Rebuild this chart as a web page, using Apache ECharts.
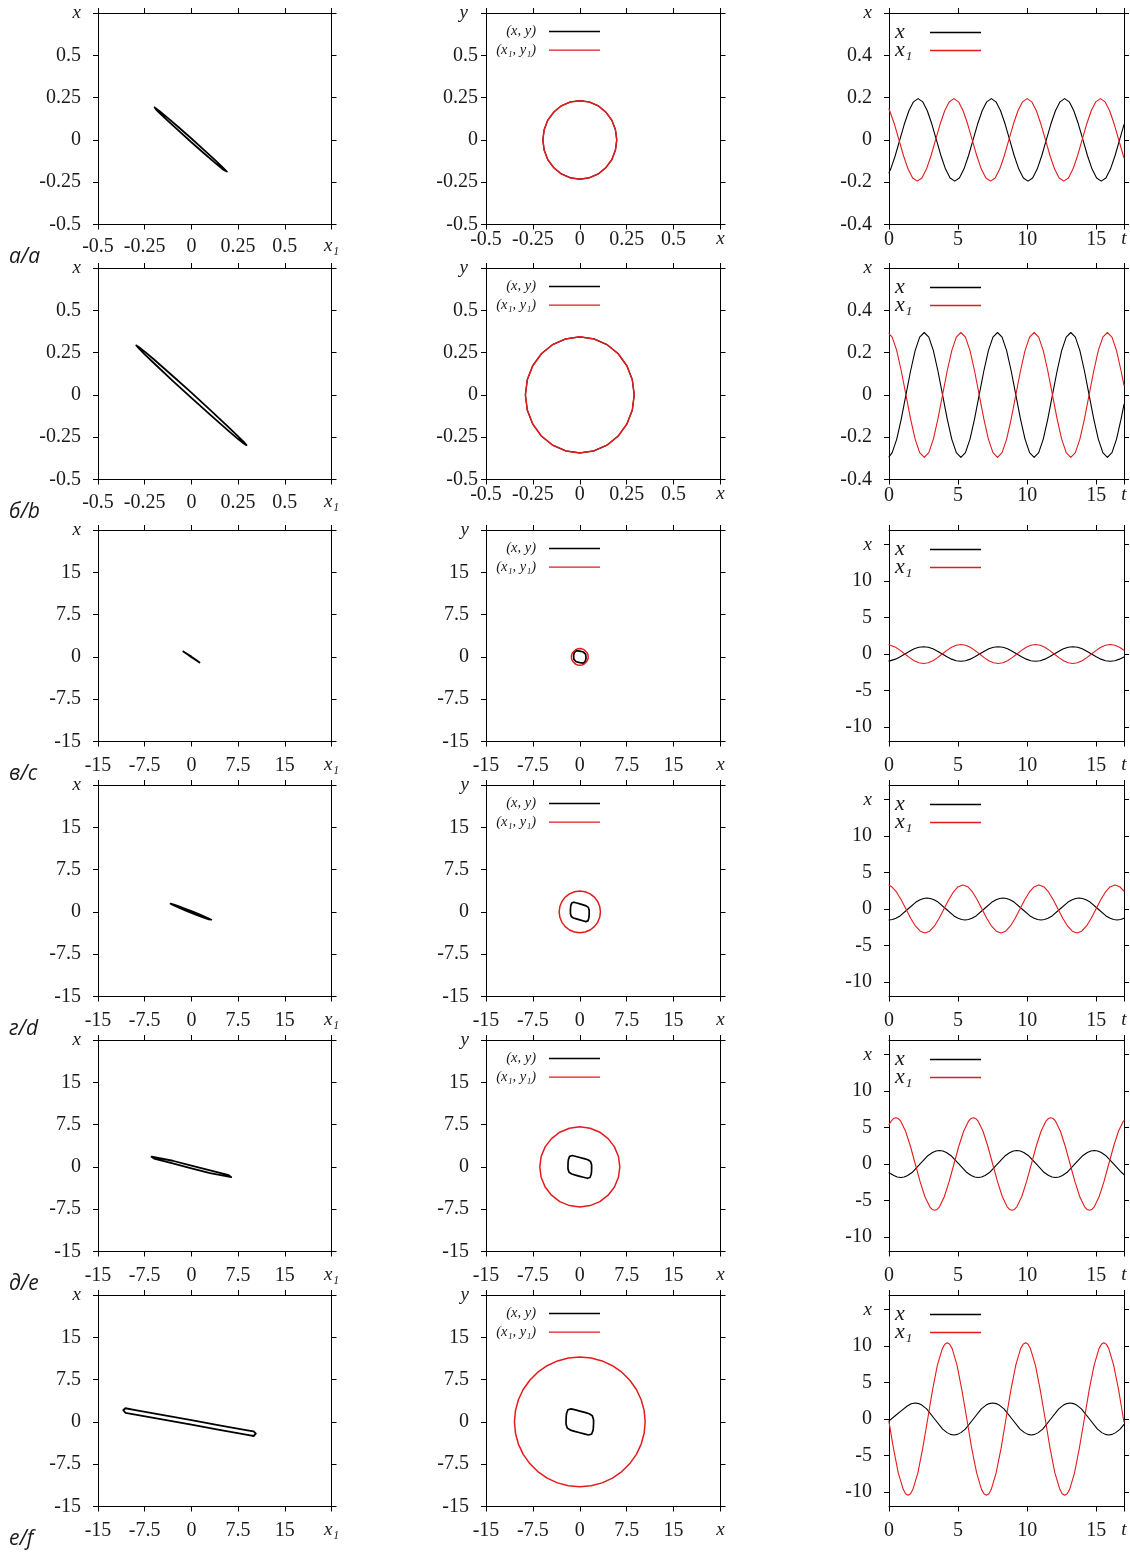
<!DOCTYPE html>
<html><head><meta charset="utf-8">
<script src="https://cdn.jsdelivr.net/npm/echarts@6/dist/echarts.min.js"></script>
<style>html,body{margin:0;padding:0;background:#fff}#c{width:1130px;height:1553px}</style>
</head><body><div id="c"></div>
<script>
// ---------- tick values / labels ----------
const phaseTicksSmall = [-0.5, -0.25, 0, 0.25, 0.5, 0.75];
const phaseTicksLarge = [-15, -7.5, 0, 7.5, 15, 22.5];
const timeTicksT = [0, 5, 10, 15, 17];
const timeTicksSmall = [-0.4, -0.2, 0, 0.2, 0.4, 0.6];
const timeTicksLarge = [-10, -5, 0, 5, 10, 15];
const timeRangeLarge = [-12, 17];
const rowLabels = ['а/a', 'б/b', 'в/c', 'г/d', 'д/e', 'е/f'];

// ---------- left column: (x1, x) loops ----------
const loopA = [[-0.197,0.192],[-0.19,0.187],[-0.17,0.17],[-0.13,0.133],[-0.07,0.076],[0,0.008],[0.07,-0.062],[0.13,-0.123],[0.17,-0.165],[0.19,-0.187],[0.2,-0.198],[0.19,-0.193],[0.17,-0.176],[0.13,-0.139],[0.07,-0.082],[0,-0.014],[-0.07,0.056],[-0.13,0.117],[-0.17,0.159],[-0.19,0.181],[-0.197,0.192]];
const loopB = [[-0.295,0.292],[-0.28,0.282],[-0.25,0.256],[-0.2,0.209],[-0.1,0.112],[0,0.013],[0.1,-0.088],[0.2,-0.192],[0.25,-0.245],[0.28,-0.278],[0.295,-0.297],[0.28,-0.287],[0.25,-0.261],[0.2,-0.214],[0.1,-0.117],[0,-0.018],[-0.1,0.083],[-0.2,0.187],[-0.25,0.24],[-0.28,0.273],[-0.295,0.292]];
const loopC = [[-1.3,0.97],[-0.65,0.52],[0,0.05],[0.65,-0.45],[1.3,-1.0],[0.65,-0.52],[0,-0.05],[-0.65,0.45],[-1.3,0.97]];
const loopD = [[-3.35,1.45],[-3.2,1.43],[-2.8,1.293],[-2,0.98],[-1,0.563],[0,0.13],[1,-0.317],[2,-0.78],[2.8,-1.171],[3.2,-1.386],[3.3,-1.47],[3.2,-1.47],[2.8,-1.333],[2,-1.02],[1,-0.603],[0,-0.17],[-1,0.277],[-2,0.74],[-2.8,1.131],[-3.2,1.346],[-3.35,1.45]];
const loopE = [[-6.4,1.81],[-6.2,2.0],[-3,1.09],[0,0.24],[3,-0.61],[6.0,-1.46],[6.4,-1.81],[6.2,-2.0],[3,-1.09],[0,-0.24],[-3,0.61],[-6.0,1.46],[-6.4,1.81]];
const loopF = [[-10.95,2.08],[-10.85,2.3],[-10.6,2.42],[-9,2.1],[-4.5,1.2],[0,0.3],[4.5,-0.6],[9,-1.5],[10.0,-1.7],[10.25,-1.82],[10.35,-2.1],[10.25,-2.36],[10.0,-2.5],[9,-2.3],[4.5,-1.4],[0,-0.5],[-4.5,0.4],[-9,1.3],[-10.6,1.62],[-10.85,1.86],[-10.95,2.08]];

// ---------- middle column: (x, y) and (x1, y1) orbits ----------
const orbitA_xy = [[0.197,0],[0.19,0.06],[0.171,0.116],[0.139,0.164],[0.099,0.201],[0.051,0.224],[0,0.232],[-0.051,0.224],[-0.099,0.201],[-0.139,0.164],[-0.171,0.116],[-0.19,0.06],[-0.197,0],[-0.19,-0.06],[-0.171,-0.116],[-0.139,-0.164],[-0.099,-0.201],[-0.051,-0.224],[0,-0.232],[0.051,-0.224],[0.099,-0.201],[0.139,-0.164],[0.171,-0.116],[0.19,-0.06],[0.197,0]];
const orbitA_x1y1 = [[0.197,0],[0.19,0.06],[0.171,0.116],[0.139,0.164],[0.099,0.201],[0.051,0.224],[0,0.232],[-0.051,0.224],[-0.099,0.201],[-0.139,0.164],[-0.171,0.116],[-0.19,0.06],[-0.197,0],[-0.19,-0.06],[-0.171,-0.116],[-0.139,-0.164],[-0.099,-0.201],[-0.051,-0.224],[0,-0.232],[0.051,-0.224],[0.099,-0.201],[0.139,-0.164],[0.171,-0.116],[0.19,-0.06],[0.197,0]];
const orbitB_xy = [[0.29,0],[0.28,0.089],[0.251,0.172],[0.205,0.243],[0.145,0.297],[0.075,0.331],[0,0.343],[-0.075,0.331],[-0.145,0.297],[-0.205,0.243],[-0.251,0.172],[-0.28,0.089],[-0.29,0],[-0.28,-0.089],[-0.251,-0.172],[-0.205,-0.243],[-0.145,-0.297],[-0.075,-0.331],[0,-0.343],[0.075,-0.331],[0.145,-0.297],[0.205,-0.243],[0.251,-0.172],[0.28,-0.089],[0.29,0]];
const orbitB_x1y1 = [[0.29,0],[0.28,0.089],[0.251,0.172],[0.205,0.243],[0.145,0.297],[0.075,0.331],[0,0.343],[-0.075,0.331],[-0.145,0.297],[-0.205,0.243],[-0.251,0.172],[-0.28,0.089],[-0.29,0],[-0.28,-0.089],[-0.251,-0.172],[-0.205,-0.243],[-0.145,-0.297],[-0.075,-0.331],[0,-0.343],[0.075,-0.331],[0.145,-0.297],[0.205,-0.243],[0.251,-0.172],[0.28,-0.089],[0.29,0]];
const orbitC_xy = [[-0.55,1.1],[-0.25,1.07],[0,1.02],[0.3,0.95],[0.58,0.86],[0.8,0.7],[0.94,0.45],[1.0,0.15],[1.0,-0.2],[0.97,-0.5],[0.88,-0.78],[0.72,-0.98],[0.55,-1.1],[0.25,-1.07],[0,-1.02],[-0.3,-0.95],[-0.58,-0.86],[-0.8,-0.7],[-0.94,-0.45],[-1.0,-0.15],[-1.0,0.2],[-0.97,0.5],[-0.88,0.78],[-0.72,0.98],[-0.55,1.1]];
const orbitC_x1y1 = [[1.35,0],[1.304,0.383],[1.169,0.74],[0.954,1.046],[0.675,1.282],[0.35,1.43],[0,1.48],[-0.35,1.43],[-0.675,1.282],[-0.954,1.046],[-1.169,0.74],[-1.304,0.383],[-1.35,0],[-1.304,-0.383],[-1.169,-0.74],[-0.954,-1.046],[-0.675,-1.282],[-0.35,-1.43],[0,-1.48],[0.35,-1.43],[0.675,-1.282],[0.954,-1.046],[1.169,-0.74],[1.304,-0.383],[1.35,0]];
const orbitD_xy = [[-0.95,1.72],[-0.48,1.57],[0,1.42],[0.54,1.24],[1.02,1.07],[1.22,0.96],[1.36,0.81],[1.45,0.59],[1.5,0.3],[1.5,-0.22],[1.48,-0.74],[1.44,-1.11],[1.39,-1.37],[1.29,-1.59],[1.16,-1.7],[0.95,-1.72],[0.48,-1.57],[0,-1.42],[-0.54,-1.24],[-1.02,-1.07],[-1.22,-0.96],[-1.36,-0.81],[-1.45,-0.59],[-1.5,-0.3],[-1.5,0.22],[-1.48,0.74],[-1.44,1.11],[-1.39,1.37],[-1.29,1.59],[-1.16,1.7],[-0.95,1.72]];
const orbitD_x1y1 = [[3.3,0],[3.188,0.958],[2.858,1.85],[2.333,2.616],[1.65,3.204],[0.855,3.574],[0,3.7],[-0.855,3.574],[-1.65,3.204],[-2.333,2.616],[-2.858,1.85],[-3.188,0.958],[-3.3,0],[-3.188,-0.958],[-2.858,-1.85],[-2.333,-2.616],[-1.65,-3.204],[-0.855,-3.574],[0,-3.7],[0.855,-3.574],[1.65,-3.204],[2.333,-2.616],[2.858,-1.85],[3.188,-0.958],[3.3,0]];
const orbitE_xy = [[-1.2,2.02],[-0.6,1.84],[0,1.67],[0.69,1.46],[1.29,1.26],[1.55,1.13],[1.72,0.96],[1.83,0.7],[1.89,0.35],[1.89,-0.26],[1.87,-0.87],[1.82,-1.3],[1.76,-1.61],[1.63,-1.87],[1.46,-2.0],[1.2,-2.02],[0.6,-1.84],[0,-1.67],[-0.69,-1.46],[-1.29,-1.26],[-1.55,-1.13],[-1.72,-0.96],[-1.83,-0.7],[-1.89,-0.35],[-1.89,0.26],[-1.87,0.87],[-1.82,1.3],[-1.76,1.61],[-1.63,1.87],[-1.46,2.0],[-1.2,2.02]];
const orbitE_x1y1 = [[6.4,0],[6.182,1.839],[5.542,3.55],[4.525,5.02],[3.2,6.149],[1.658,6.859],[0,7.1],[-1.658,6.859],[-3.2,6.149],[-4.525,5.02],[-5.542,3.55],[-6.182,1.839],[-6.4,0],[-6.182,-1.839],[-5.542,-3.55],[-4.525,-5.02],[-3.2,-6.149],[-1.658,-6.859],[0,-7.1],[1.658,-6.859],[3.2,-6.149],[4.525,-5.02],[5.542,-3.55],[6.182,-1.839],[6.4,0]];
const orbitF_xy = [[-1.4,2.32],[-0.7,2.12],[0,1.92],[0.8,1.68],[1.5,1.45],[1.8,1.3],[2.0,1.1],[2.13,0.8],[2.2,0.4],[2.2,-0.3],[2.17,-1.0],[2.12,-1.5],[2.05,-1.85],[1.9,-2.15],[1.7,-2.3],[1.4,-2.32],[0.7,-2.12],[0,-1.92],[-0.8,-1.68],[-1.5,-1.45],[-1.8,-1.3],[-2.0,-1.1],[-2.13,-0.8],[-2.2,-0.4],[-2.2,0.3],[-2.17,1.0],[-2.12,1.5],[-2.05,1.85],[-1.9,2.15],[-1.7,2.3],[-1.4,2.32]];
const orbitF_x1y1 = [[10.45,0],[10.29,2.0],[9.82,3.93],[9.05,5.75],[8.0,7.39],[6.72,8.81],[5.225,9.96],[3.57,10.81],[1.82,11.33],[0,11.5],[-1.82,11.33],[-3.57,10.81],[-5.225,9.96],[-6.72,8.81],[-8.0,7.39],[-9.05,5.75],[-9.82,3.93],[-10.29,2.0],[-10.45,0],[-10.29,-2.0],[-9.82,-3.93],[-9.05,-5.75],[-8.0,-7.39],[-6.72,-8.81],[-5.225,-9.96],[-3.57,-10.81],[-1.82,-11.33],[0,-11.5],[1.82,-11.33],[3.57,-10.81],[5.225,-9.96],[6.72,-8.81],[8.0,-7.39],[9.05,-5.75],[9.82,-3.93],[10.29,-2.0],[10.45,0]];

// ---------- right column: x(t), x1(t) ----------
const timeA_x = [[0,-0.155],[0.12,-0.138],[0.45,-0.075],[0.78,0],[1.11,0.075],[1.44,0.138],[1.77,0.18],[2.105,0.195],[2.44,0.18],[2.77,0.138],[3.1,0.075],[3.43,0],[3.76,-0.075],[4.09,-0.138],[4.42,-0.18],[4.755,-0.195],[5.09,-0.18],[5.42,-0.138],[5.75,-0.075],[6.08,0],[6.41,0.075],[6.74,0.138],[7.07,0.18],[7.405,0.195],[7.74,0.18],[8.07,0.138],[8.4,0.075],[8.73,0],[9.06,-0.075],[9.39,-0.138],[9.72,-0.18],[10.055,-0.195],[10.39,-0.18],[10.72,-0.138],[11.05,-0.075],[11.38,0],[11.71,0.075],[12.04,0.138],[12.37,0.18],[12.705,0.195],[13.04,0.18],[13.37,0.138],[13.7,0.075],[14.03,0],[14.36,-0.075],[14.69,-0.138],[15.02,-0.18],[15.355,-0.195],[15.69,-0.18],[16.02,-0.138],[16.35,-0.075],[16.68,0],[17,0.072]];
const timeA_x1 = [[0,0.146],[0.39,0.075],[0.72,0],[1.05,-0.075],[1.38,-0.138],[1.71,-0.18],[2.045,-0.195],[2.38,-0.18],[2.71,-0.138],[3.04,-0.075],[3.37,0],[3.7,0.075],[4.03,0.138],[4.36,0.18],[4.695,0.195],[5.03,0.18],[5.36,0.138],[5.69,0.075],[6.02,0],[6.35,-0.075],[6.68,-0.138],[7.01,-0.18],[7.345,-0.195],[7.68,-0.18],[8.01,-0.138],[8.34,-0.075],[8.67,0],[9.0,0.075],[9.33,0.138],[9.66,0.18],[9.995,0.195],[10.33,0.18],[10.66,0.138],[10.99,0.075],[11.32,0],[11.65,-0.075],[11.98,-0.138],[12.31,-0.18],[12.645,-0.195],[12.98,-0.18],[13.31,-0.138],[13.64,-0.075],[13.97,0],[14.3,0.075],[14.63,0.138],[14.96,0.18],[15.295,0.195],[15.63,0.18],[15.96,0.138],[16.29,0.075],[16.62,0],[16.95,-0.075],[17,-0.085]];
const timeB_x = [[0,-0.293],[0.23,-0.273],[0.56,-0.209],[0.89,-0.113],[1.225,0],[1.56,0.113],[1.89,0.209],[2.22,0.273],[2.55,0.295],[2.88,0.273],[3.21,0.209],[3.54,0.113],[3.875,0],[4.21,-0.113],[4.54,-0.209],[4.87,-0.273],[5.2,-0.295],[5.53,-0.273],[5.86,-0.209],[6.19,-0.113],[6.525,0],[6.86,0.113],[7.19,0.209],[7.52,0.273],[7.85,0.295],[8.18,0.273],[8.51,0.209],[8.84,0.113],[9.175,0],[9.51,-0.113],[9.84,-0.209],[10.17,-0.273],[10.5,-0.295],[10.83,-0.273],[11.16,-0.209],[11.49,-0.113],[11.825,0],[12.16,0.113],[12.49,0.209],[12.82,0.273],[13.15,0.295],[13.48,0.273],[13.81,0.209],[14.14,0.113],[14.475,0],[14.81,-0.113],[15.14,-0.209],[15.47,-0.273],[15.8,-0.295],[16.13,-0.273],[16.46,-0.209],[16.79,-0.113],[17,-0.045]];
const timeB_x1 = [[0,0.29],[0.23,0.273],[0.56,0.209],[0.89,0.113],[1.225,0],[1.56,-0.113],[1.89,-0.209],[2.22,-0.273],[2.55,-0.295],[2.88,-0.273],[3.21,-0.209],[3.54,-0.113],[3.875,0],[4.21,0.113],[4.54,0.209],[4.87,0.273],[5.2,0.295],[5.53,0.273],[5.86,0.209],[6.19,0.113],[6.525,0],[6.86,-0.113],[7.19,-0.209],[7.52,-0.273],[7.85,-0.295],[8.18,-0.273],[8.51,-0.209],[8.84,-0.113],[9.175,0],[9.51,0.113],[9.84,0.209],[10.17,0.273],[10.5,0.295],[10.83,0.273],[11.16,0.209],[11.49,0.113],[11.825,0],[12.16,-0.113],[12.49,-0.209],[12.82,-0.273],[13.15,-0.295],[13.48,-0.273],[13.81,-0.209],[14.14,-0.113],[14.475,0],[14.81,0.113],[15.14,0.209],[15.47,0.273],[15.8,0.295],[16.13,0.273],[16.46,0.209],[16.79,0.113],[17,0.045]];
const timeC_x = [[0,-0.98],[0.14,-0.924],[0.475,-0.707],[0.81,-0.383],[1.15,0],[1.49,0.383],[1.825,0.707],[2.16,0.924],[2.5,1.0],[2.84,0.924],[3.175,0.707],[3.51,0.383],[3.85,0],[4.19,-0.383],[4.525,-0.707],[4.86,-0.924],[5.2,-1.0],[5.54,-0.924],[5.875,-0.707],[6.21,-0.383],[6.55,0],[6.89,0.383],[7.225,0.707],[7.56,0.924],[7.9,1.0],[8.24,0.924],[8.575,0.707],[8.91,0.383],[9.25,0],[9.59,-0.383],[9.925,-0.707],[10.26,-0.924],[10.6,-1.0],[10.94,-0.924],[11.275,-0.707],[11.61,-0.383],[11.95,0],[12.29,0.383],[12.625,0.707],[12.96,0.924],[13.3,1.0],[13.64,0.924],[13.975,0.707],[14.31,0.383],[14.65,0],[14.99,-0.383],[15.325,-0.707],[15.66,-0.924],[16.0,-1.0],[16.34,-0.924],[16.675,-0.707],[17,-0.4]];
const timeC_x1 = [[0,1.27],[0.14,1.201],[0.475,0.919],[0.81,0.498],[1.15,0],[1.49,-0.498],[1.825,-0.919],[2.16,-1.201],[2.5,-1.3],[2.84,-1.201],[3.175,-0.919],[3.51,-0.498],[3.85,0],[4.19,0.498],[4.525,0.919],[4.86,1.201],[5.2,1.3],[5.54,1.201],[5.875,0.919],[6.21,0.498],[6.55,0],[6.89,-0.498],[7.225,-0.919],[7.56,-1.201],[7.9,-1.3],[8.24,-1.201],[8.575,-0.919],[8.91,-0.498],[9.25,0],[9.59,0.498],[9.925,0.919],[10.26,1.201],[10.6,1.3],[10.94,1.201],[11.275,0.919],[11.61,0.498],[11.95,0],[12.29,-0.498],[12.625,-0.919],[12.96,-1.201],[13.3,-1.3],[13.64,-1.201],[13.975,-0.919],[14.31,-0.498],[14.65,0],[14.99,0.498],[15.325,0.919],[15.66,1.201],[16.0,1.3],[16.34,1.201],[16.675,0.919],[17,0.52]];
const timeD_x = [[0,-1.5],[0.25,-1.44],[0.5,-1.27],[0.8,-0.95],[1.375,0],[1.95,0.95],[2.25,1.27],[2.5,1.44],[2.75,1.5],[3.0,1.44],[3.25,1.27],[3.55,0.95],[4.125,0],[4.7,-0.95],[5.0,-1.27],[5.25,-1.44],[5.5,-1.5],[5.75,-1.44],[6.0,-1.27],[6.3,-0.95],[6.875,0],[7.45,0.95],[7.75,1.27],[8.0,1.44],[8.25,1.5],[8.5,1.44],[8.75,1.27],[9.05,0.95],[9.625,0],[10.2,-0.95],[10.5,-1.27],[10.75,-1.44],[11.0,-1.5],[11.25,-1.44],[11.5,-1.27],[11.8,-0.95],[12.375,0],[12.95,0.95],[13.25,1.27],[13.5,1.44],[13.75,1.5],[14.0,1.44],[14.25,1.27],[14.55,0.95],[15.125,0],[15.7,-0.95],[16.0,-1.27],[16.25,-1.44],[16.5,-1.5],[16.75,-1.44],[17,-1.27]];
const timeD_x1 = [[0,3.27],[0.19,3.049],[0.54,2.333],[0.88,1.263],[1.225,0],[1.57,-1.263],[1.91,-2.333],[2.26,-3.049],[2.6,-3.3],[2.94,-3.049],[3.29,-2.333],[3.63,-1.263],[3.975,0],[4.32,1.263],[4.66,2.333],[5.01,3.049],[5.35,3.3],[5.69,3.049],[6.04,2.333],[6.38,1.263],[6.725,0],[7.07,-1.263],[7.41,-2.333],[7.76,-3.049],[8.1,-3.3],[8.44,-3.049],[8.79,-2.333],[9.13,-1.263],[9.475,0],[9.82,1.263],[10.16,2.333],[10.51,3.049],[10.85,3.3],[11.19,3.049],[11.54,2.333],[11.88,1.263],[12.225,0],[12.57,-1.263],[12.91,-2.333],[13.26,-3.049],[13.6,-3.3],[13.94,-3.049],[14.29,-2.333],[14.63,-1.263],[14.975,0],[15.32,1.263],[15.66,2.333],[16.01,3.049],[16.35,3.3],[16.69,3.049],[17,2.45]];
const timeE_x = [[0,-1.2],[0.35,-1.57],[0.6,-1.78],[0.85,-1.85],[1.1,-1.78],[1.35,-1.57],[1.67,-1.17],[2.25,0],[2.83,1.17],[3.15,1.57],[3.4,1.78],[3.65,1.85],[3.9,1.78],[4.15,1.57],[4.47,1.17],[5.05,0],[5.63,-1.17],[5.95,-1.57],[6.2,-1.78],[6.45,-1.85],[6.7,-1.78],[6.95,-1.57],[7.27,-1.17],[7.85,0],[8.43,1.17],[8.75,1.57],[9.0,1.78],[9.25,1.85],[9.5,1.78],[9.75,1.57],[10.07,1.17],[10.65,0],[11.23,-1.17],[11.55,-1.57],[11.8,-1.78],[12.05,-1.85],[12.3,-1.78],[12.55,-1.57],[12.87,-1.17],[13.45,0],[14.03,1.17],[14.35,1.57],[14.6,1.78],[14.85,1.85],[15.1,1.78],[15.35,1.57],[15.67,1.17],[16.25,0],[16.83,-1.17],[17,-1.45]];
const timeE_x1 = [[0,5.4],[0.15,5.87],[0.325,6.23],[0.5,6.35],[0.675,6.23],[0.85,5.87],[1.2,4.49],[1.55,2.43],[1.9,0],[2.25,-2.43],[2.6,-4.49],[2.95,-5.87],[3.125,-6.23],[3.3,-6.35],[3.475,-6.23],[3.65,-5.87],[4.0,-4.49],[4.35,-2.43],[4.7,0],[5.05,2.43],[5.4,4.49],[5.75,5.87],[5.925,6.23],[6.1,6.35],[6.275,6.23],[6.45,5.87],[6.8,4.49],[7.15,2.43],[7.5,0],[7.85,-2.43],[8.2,-4.49],[8.55,-5.87],[8.725,-6.23],[8.9,-6.35],[9.075,-6.23],[9.25,-5.87],[9.6,-4.49],[9.95,-2.43],[10.3,0],[10.65,2.43],[11.0,4.49],[11.35,5.87],[11.525,6.23],[11.7,6.35],[11.875,6.23],[12.05,5.87],[12.4,4.49],[12.75,2.43],[13.1,0],[13.45,-2.43],[13.8,-4.49],[14.15,-5.87],[14.325,-6.23],[14.5,-6.35],[14.675,-6.23],[14.85,-5.87],[15.2,-4.49],[15.55,-2.43],[15.9,0],[16.25,2.43],[16.6,4.49],[16.95,5.87],[17,5.95]];
const timeF_x = [[0,-0.25],[0.45,0.45],[0.9,1.15],[1.3,1.75],[1.6,2.08],[1.9,2.2],[2.15,2.11],[2.4,1.87],[2.72,1.39],[3.3,0],[3.88,-1.39],[4.2,-1.87],[4.45,-2.11],[4.7,-2.2],[4.95,-2.11],[5.2,-1.87],[5.52,-1.39],[6.1,0],[6.68,1.39],[7.0,1.87],[7.25,2.11],[7.5,2.2],[7.75,2.11],[8.0,1.87],[8.32,1.39],[8.9,0],[9.48,-1.39],[9.8,-1.87],[10.05,-2.11],[10.3,-2.2],[10.55,-2.11],[10.8,-1.87],[11.12,-1.39],[11.7,0],[12.28,1.39],[12.6,1.87],[12.85,2.11],[13.1,2.2],[13.35,2.11],[13.6,1.87],[13.92,1.39],[14.5,0],[15.08,-1.39],[15.4,-1.87],[15.65,-2.11],[15.9,-2.2],[16.15,-2.11],[16.4,-1.87],[16.72,-1.39],[17,-0.75]];
const timeF_x1 = [[0,-0.4],[0.32,-4.0],[0.67,-7.39],[1.03,-9.65],[1.2,-10.25],[1.38,-10.45],[1.56,-10.25],[1.73,-9.65],[2.09,-7.39],[2.44,-4.0],[2.8,0],[3.15,4.0],[3.5,7.39],[3.86,9.65],[4.04,10.25],[4.21,10.45],[4.39,10.25],[4.57,9.65],[4.92,7.39],[5.27,4.0],[5.63,0],[5.98,-4.0],[6.34,-7.39],[6.69,-9.65],[6.87,-10.25],[7.05,-10.45],[7.23,-10.25],[7.4,-9.65],[7.75,-7.39],[8.11,-4.0],[8.46,0],[8.82,4.0],[9.17,7.39],[9.52,9.65],[9.7,10.25],[9.88,10.45],[10.06,10.25],[10.23,9.65],[10.59,7.39],[10.94,4.0],[11.3,0],[11.65,-4.0],[12.0,-7.39],[12.36,-9.65],[12.53,-10.25],[12.71,-10.45],[12.89,-10.25],[13.07,-9.65],[13.42,-7.39],[13.77,-4.0],[14.13,0],[14.48,4.0],[14.84,7.39],[15.19,9.65],[15.37,10.25],[15.54,10.45],[15.72,10.25],[15.9,9.65],[16.25,7.39],[16.61,4.0],[16.96,0],[17,-0.4]];

// ---------- layout ----------
const ROW_TOP = [13, 268, 530, 785, 1040, 1295];
const ROW_H = 211.5;
const COLS = [{left: 98, width: 233.5}, {left: 486, width: 234.5}, {left: 889, width: 235}];
const BLACK = '#000000', RED = '#e41a1c';
const TXT = '#1a1a1a';
const SERIF = 'Liberation Serif';

const rowsData = [
  {loop: loopA, xy: orbitA_xy, x1y1: orbitA_x1y1, tx: timeA_x, tx1: timeA_x1, small: true},
  {loop: loopB, xy: orbitB_xy, x1y1: orbitB_x1y1, tx: timeB_x, tx1: timeB_x1, small: true},
  {loop: loopC, xy: orbitC_xy, x1y1: orbitC_x1y1, tx: timeC_x, tx1: timeC_x1, small: false},
  {loop: loopD, xy: orbitD_xy, x1y1: orbitD_x1y1, tx: timeD_x, tx1: timeD_x1, small: false},
  {loop: loopE, xy: orbitE_xy, x1y1: orbitE_x1y1, tx: timeE_x, tx1: timeE_x1, small: false},
  {loop: loopF, xy: orbitF_xy, x1y1: orbitF_x1y1, tx: timeF_x, tx1: timeF_x1, small: false}
];

const RICH = {
  n: {fontFamily: SERIF, fontStyle: 'italic', fontSize: 19, color: TXT},
  np: {fontFamily: SERIF, fontStyle: 'italic', fontSize: 19, color: TXT, padding: [0, 10, 0, 0]}
};

const grids = [], xAxes = [], yAxes = [], series = [], legends = [];

function makeFmt(ticks, nameLabel) {
  const last = ticks[ticks.length - 1];
  return function (v) {
    if (Math.abs(v - last) < 1e-9) return nameLabel;
    return String(v);
  };
}

function addPanel(r, c, xr, xt, xName, yr, yt, yName, xMargin, yMargin) {
  const g = grids.length;
  grids.push({left: COLS[c].left, top: ROW_TOP[r], width: COLS[c].width, height: ROW_H,
    containLabel: false, outerBoundsMode: 'none', show: false});
  const base = (pos, min, max, ticks, fmt, margin, showLabel) => ({
    type: 'value', gridIndex: g, position: pos, min: min, max: max,
    axisLine: {show: true, onZero: false, lineStyle: {color: '#000', width: 1}},
    axisTick: {show: true, inside: false, length: 5, customValues: ticks, lineStyle: {color: '#000', width: 1}},
    axisLabel: {show: showLabel, customValues: ticks, formatter: fmt, margin: margin, color: TXT,
      fontFamily: SERIF, fontSize: 20, rich: RICH, hideOverlap: false},
    splitLine: {show: false}, splitArea: {show: false}
  });
  const xi = xAxes.length, yi = yAxes.length;
  xAxes.push(base('bottom', xr[0], xr[1], xt, makeFmt(xt, xName), xMargin, true));
  xAxes.push(base('top', xr[0], xr[1], xt, null, 0, false));
  yAxes.push(base('left', yr[0], yr[1], yt, makeFmt(yt, yName), yMargin, true));
  yAxes.push(base('right', yr[0], yr[1], yt, null, 0, false));
  return {xi, yi};
}

function lineSeries(name, data, ax, color, width) {
  return {type: 'line', name: name, data: data, xAxisIndex: ax.xi, yAxisIndex: ax.yi,
    symbol: 'none', showSymbol: false, smooth: false, color: color, itemStyle: {color: color},
    lineStyle: {color: color, width: width, join: 'round', cap: 'round'}, silent: true, animation: false,
    emphasis: {disabled: true}};
}

rowsData.forEach((d, r) => {
  const pt = d.small ? phaseTicksSmall : phaseTicksLarge;
  const pr = [pt[0], pt[pt.length - 1]];
  const tt = d.small ? timeTicksSmall : timeTicksLarge;
  const tr = d.small ? [tt[0], tt[tt.length - 1]] : timeRangeLarge;
  const xm0 = r === 0 ? 12 : (r === 1 ? 13 : 14);
  const xm2 = r === 0 ? 5 : (r === 1 ? 6 : 14);
  // left
  const a0 = addPanel(r, 0, pr, pt, '{n|x₁}', pr, pt, '{n|x}', xm0, 17);
  series.push(lineSeries('loop', d.loop, a0, BLACK, 1.8));
  // middle
  const a1 = addPanel(r, 1, pr, pt, '{n|x}', pr, pt, d.small ? '{np|y}' : '{n|y}', d.small ? 5 : 14, d.small ? 8 : 17);
  series.push(lineSeries('(x, y)', d.xy, a1, BLACK, d.small ? 1.2 : 1.7));
  series.push(lineSeries('(x₁, y₁)', d.x1y1, a1, RED, 1.5));
  // right
  const a2 = addPanel(r, 2, [0, 17], timeTicksT, '{n|t}', tr, tt, '{n|x}', xm2, 17);
  series.push(lineSeries('x', d.tx, a2, BLACK, 1.1));
  series.push(lineSeries('x₁', d.tx1, a2, RED, 1.1));

  legends.push({
    orient: 'vertical', align: 'right', right: 530, top: ROW_TOP[r] + 10,
    itemWidth: 51, itemHeight: 1.3, itemGap: 1.6, icon: 'rect', padding: 0, selectedMode: false,
    data: ['(x, y)', '(x₁, y₁)'],
    formatter: n => '{t|' + n + '}',
    textStyle: {fontFamily: SERIF, fontStyle: 'italic', fontSize: 14.5, color: TXT, lineHeight: 17,
      rich: {t: {fontFamily: SERIF, fontStyle: 'italic', fontSize: 14.5, color: TXT, lineHeight: 17, padding: [0, 8, 0, 0]}}}
  });
  legends.push({
    orient: 'vertical', align: 'right', right: 149, top: ROW_TOP[r] + 8.5,
    itemWidth: 51, itemHeight: 1.3, itemGap: -4, icon: 'rect', padding: 0, selectedMode: false,
    data: ['x', 'x₁'],
    formatter: n => '{t|' + n + '}',
    textStyle: {fontFamily: SERIF, fontStyle: 'italic', fontSize: 22, color: TXT, lineHeight: 19,
      rich: {t: {fontFamily: SERIF, fontStyle: 'italic', fontSize: 22, color: TXT, lineHeight: 19, width: 22, align: 'left', padding: [0, 8, 0, 0]}}}
  });
});

const titles = rowLabels.map((t, i) => ({
  text: t, left: 9, top: ROW_TOP[i] + 232, padding: 0,
  textStyle: {fontFamily: 'Open Sans', fontStyle: 'italic', fontWeight: 'normal', fontSize: 21, color: TXT, lineHeight: 24}
}));

const chart = echarts.init(document.getElementById('c'), null, {renderer: 'canvas', width: 1130, height: 1553});
chart.setOption({
  animation: false,
  backgroundColor: '#ffffff',
  title: titles,
  legend: legends,
  grid: grids,
  xAxis: xAxes,
  yAxis: yAxes,
  series: series
});
</script></body></html>
